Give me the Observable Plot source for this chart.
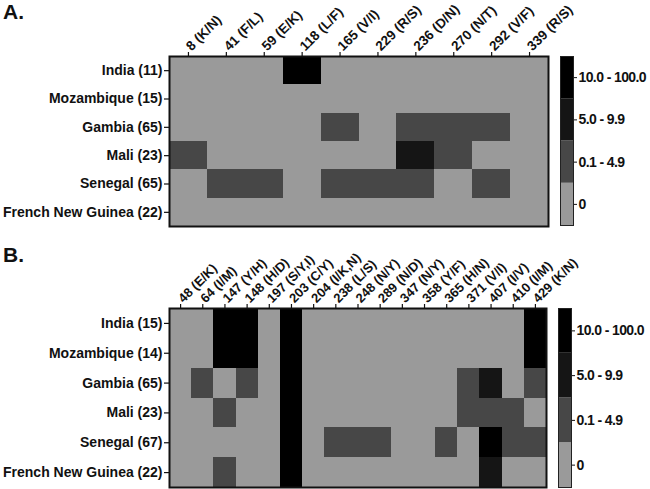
<!DOCTYPE html>
<html>
<head>
<meta charset="utf-8">
<script src="https://cdn.jsdelivr.net/npm/d3@7"></script>
<script src="https://cdn.jsdelivr.net/npm/@observablehq/plot@0.6"></script>
<style>
  html, body { margin: 0; padding: 0; background: #fff; }
  #root { position: relative; width: 650px; height: 489px; overflow: hidden; font-family: "Liberation Sans", Arial, sans-serif; }
  .abs { position: absolute; }
  .plabel { position: absolute; font-weight: bold; font-size: 21px; color: #111; }
</style>
</head>
<body>
<div id="root">
  <div class="plabel" style="left:3px; top:0px;">A.</div>
  <div class="plabel" style="left:3px; top:243px;">B.</div>
</div>
<script>
// ---- Data ----
const rowsA = ["India (11)", "Mozambique (15)", "Gambia (65)", "Mali (23)", "Senegal (65)", "French New Guinea (22)"];
const colsA = ["8 (K/N)", "41 (F/L)", "59 (E/K)", "118 (L/F)", "165 (V/I)", "229 (R/S)", "236 (D/N)", "270 (N/T)", "292 (V/F)", "339 (R/S)"];
// level: 0 = 0, 1 = 0.1-4.9, 2 = 5.0-9.9, 3 = 10.0-100.0
const levelsA = [
  [0, 0, 0, 3, 0, 0, 0, 0, 0, 0],
  [0, 0, 0, 0, 0, 0, 0, 0, 0, 0],
  [0, 0, 0, 0, 1, 0, 1, 1, 1, 0],
  [1, 0, 0, 0, 0, 0, 2, 1, 0, 0],
  [0, 1, 1, 0, 1, 1, 1, 0, 1, 0],
  [0, 0, 0, 0, 0, 0, 0, 0, 0, 0]
];

const rowsB = ["India (15)", "Mozambique (14)", "Gambia (65)", "Mali (23)", "Senegal (67)", "French New Guinea (22)"];
const colsB = ["48 (E/K)", "64 (I/M)", "147 (Y/H)", "148 (H/D)", "197 (S/Y,I)", "203 (C/Y)", "204 (I/K,N)", "238 (L/S)", "248 (N/Y)", "289 (N/D)", "347 (N/Y)", "358 (Y/F)", "365 (H/N)", "371 (V/I)", "407 (I/V)", "410 (I/M)", "429 (K/N)"];
const levelsB = [
  [0, 0, 3, 3, 0, 3, 0, 0, 0, 0, 0, 0, 0, 0, 0, 0, 3],
  [0, 0, 3, 3, 0, 3, 0, 0, 0, 0, 0, 0, 0, 0, 0, 0, 3],
  [0, 1, 0, 1, 0, 3, 0, 0, 0, 0, 0, 0, 0, 1, 2, 0, 1],
  [0, 0, 1, 0, 0, 3, 0, 0, 0, 0, 0, 0, 0, 1, 1, 1, 0],
  [0, 0, 0, 0, 0, 3, 0, 1, 1, 1, 0, 0, 1, 0, 3, 1, 1],
  [0, 0, 1, 0, 0, 3, 0, 0, 0, 0, 0, 0, 0, 0, 2, 0, 0]
];

const legendLabels = ["0", "0.1 - 4.9", "5.0 - 9.9", "10.0 - 100.0"];
const legendColors = ["#9a9a9a", "#474747", "#151515", "#000000"];

// ---- Build ----
const root = document.getElementById("root");
const FONT = "Liberation Sans, Arial, sans-serif";

function flatten(rows, cols, levels) {
  const out = [];
  rows.forEach((r, i) => cols.forEach((c, j) => out.push({row: r, col: c, level: levels[i][j]})));
  return out;
}

function heatmap(rows, cols, levels, opts) {
  return Plot.plot({
    width: 650,
    height: opts.height,
    marginLeft: opts.ml,
    marginRight: opts.mr,
    marginTop: opts.mt,
    marginBottom: opts.mb,
    style: {fontFamily: FONT, fontWeight: "bold", color: "#111", background: "transparent", overflow: "visible"},
    x: {type: "band", domain: cols, padding: 0, round: false},
    y: {type: "band", domain: rows, padding: 0, round: false},
    color: {type: "ordinal", domain: [0, 1, 2, 3], range: legendColors},
    marks: [
      Plot.cell(flatten(rows, cols, levels), {x: "col", y: "row", fill: "level", inset: 0, shapeRendering: "crispEdges"}),
      Plot.frame({stroke: "#111", strokeWidth: 2}),
      Plot.axisX({anchor: "top", tickRotate: -45, tickSize: 5, tickPadding: 3, fontSize: opts.xfs, label: null, strokeWidth: 1.2}),
      Plot.axisY({anchor: "left", tickSize: 5, tickPadding: 2, fontSize: 14, label: null, strokeWidth: 1.2})
    ]
  });
}

function legend(h) {
  const data = legendLabels.map((l, i) => ({label: l, level: i}));
  return Plot.plot({
    width: 92,
    height: h,
    marginLeft: 1,
    marginRight: 78,
    marginTop: 1,
    marginBottom: 1,
    style: {fontFamily: FONT, fontWeight: "bold", color: "#111", background: "transparent", overflow: "visible", letterSpacing: "-0.6px"},
    x: {type: "band", domain: ["bar"], padding: 0, axis: null, round: false},
    y: {type: "band", domain: legendLabels.slice().reverse(), padding: 0, round: false},
    color: {type: "ordinal", domain: [0, 1, 2, 3], range: legendColors},
    marks: [
      Plot.cell(data, {x: () => "bar", y: "label", fill: "level", inset: 0}),
      Plot.frame({stroke: "#222", strokeWidth: 1}),
      Plot.axisY({anchor: "right", tickSize: 3, tickPadding: 2, fontSize: 14, label: null})
    ]
  });
}

function place(el, left, top) {
  el.classList.add("abs");
  el.style.left = left + "px";
  el.style.top = top + "px";
  root.appendChild(el);
}

place(heatmap(rowsA, colsA, levelsA, {height: 240, ml: 169, mr: 102, mt: 56, mb: 14, xfs: 13.5}), 0, 0);
place(legend(171), 559, 55);
place(heatmap(rowsB, colsB, levelsB, {height: 249, ml: 169, mr: 104, mt: 68, mb: 2, xfs: 13}), 0, 240);
place(legend(181), 557, 307);
</script>
</body>
</html>
